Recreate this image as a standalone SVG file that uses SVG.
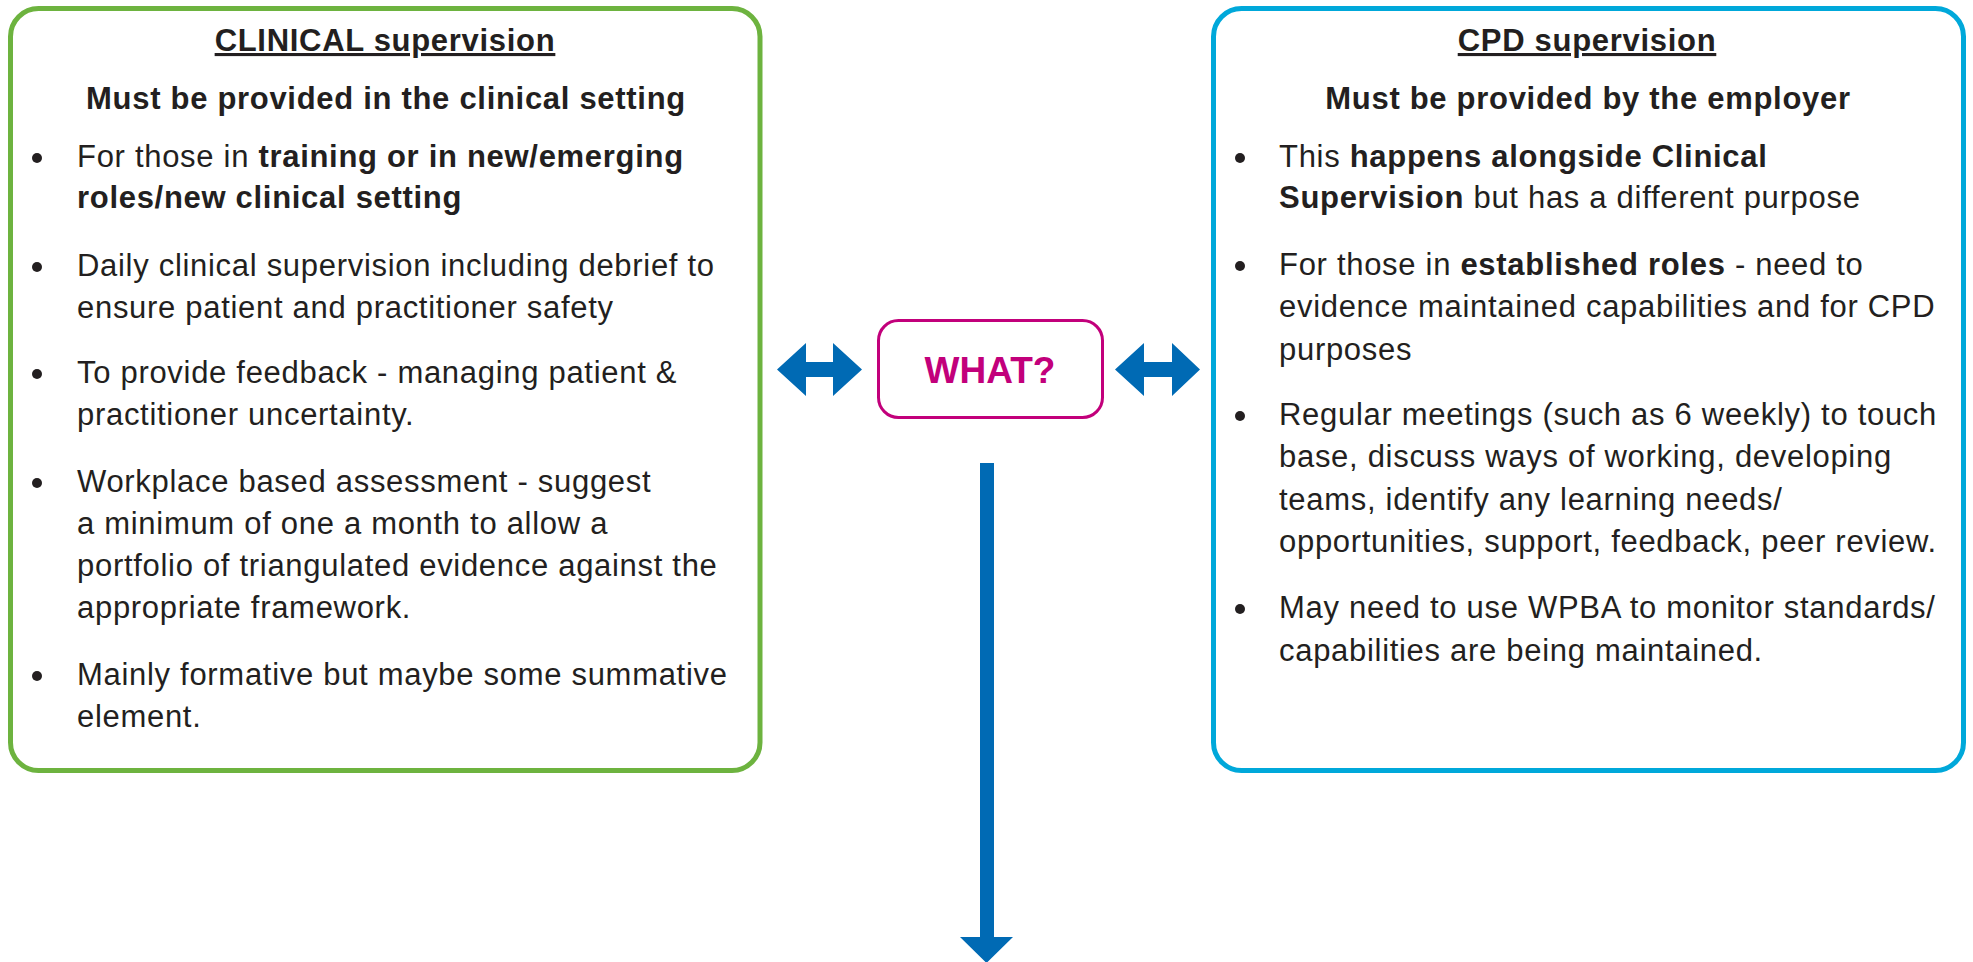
<svg xmlns="http://www.w3.org/2000/svg" width="1973" height="962" viewBox="0 0 1973 962">
<style>
.t{font-family:"Liberation Sans",Arial,Helvetica,sans-serif;font-size:31px;fill:#231f20;letter-spacing:0.7px}
.b{font-weight:bold}
.h{font-weight:bold;text-decoration:underline;text-anchor:middle}
.c{text-anchor:middle}
.dot{fill:#231f20}
.arrow{fill:#006ab4}
</style>
<rect width="1973" height="962" fill="#ffffff"/>
<g id="clinical">
<rect x="10.5" y="8.5" width="749.5" height="762" rx="28" ry="28" fill="#ffffff" stroke="#6db33f" stroke-width="5"/>
<text class="t h" x="385" y="51">CLINICAL supervision</text>
<text class="t b c" x="386" y="109">Must be provided in the clinical setting</text>
<circle class="dot" cx="37" cy="158" r="5"/>
<text class="t" x="77" y="167">For those in <tspan class="b">training or in new/emerging</tspan></text>
<text class="t b" x="77" y="208">roles/new clinical setting</text>
<circle class="dot" cx="37" cy="267" r="5"/>
<text class="t" x="77" y="276">Daily clinical supervision including debrief to</text>
<text class="t" x="77" y="318">ensure patient and practitioner safety</text>
<circle class="dot" cx="37" cy="374" r="5"/>
<text class="t" x="77" y="383">To provide feedback - managing patient &amp;</text>
<text class="t" x="77" y="425">practitioner uncertainty.</text>
<circle class="dot" cx="37" cy="483" r="5"/>
<text class="t" x="77" y="492">Workplace based assessment - suggest</text>
<text class="t" x="77" y="534">a minimum of one a month to allow a</text>
<text class="t" x="77" y="576">portfolio of triangulated evidence against the</text>
<text class="t" x="77" y="618">appropriate framework.</text>
<circle class="dot" cx="37" cy="676" r="5"/>
<text class="t" x="77" y="685">Mainly formative but maybe some summative</text>
<text class="t" x="77" y="727">element.</text>
</g>
<g id="cpd">
<rect x="1213.5" y="8.5" width="750" height="762" rx="28" ry="28" fill="#ffffff" stroke="#00a8da" stroke-width="5"/>
<text class="t h" x="1587" y="51">CPD supervision</text>
<text class="t b c" x="1588" y="109">Must be provided by the employer</text>
<circle class="dot" cx="1240" cy="158" r="5"/>
<text class="t" x="1279" y="167">This <tspan class="b">happens alongside Clinical</tspan></text>
<text class="t" x="1279" y="208"><tspan class="b">Supervision</tspan> but has a different purpose</text>
<circle class="dot" cx="1240" cy="266" r="5"/>
<text class="t" x="1279" y="275">For those in <tspan class="b">established roles</tspan> - need to</text>
<text class="t" x="1279" y="317">evidence maintained capabilities and for CPD</text>
<text class="t" x="1279" y="360">purposes</text>
<circle class="dot" cx="1240" cy="416" r="5"/>
<text class="t" x="1279" y="425">Regular meetings (such as 6 weekly) to touch</text>
<text class="t" x="1279" y="467">base, discuss ways of working, developing</text>
<text class="t" x="1279" y="510">teams, identify any learning needs/</text>
<text class="t" x="1279" y="552">opportunities, support, feedback, peer review.</text>
<circle class="dot" cx="1240" cy="609" r="5"/>
<text class="t" x="1279" y="618">May need to use WPBA to monitor standards/</text>
<text class="t" x="1279" y="661">capabilities are being maintained.</text>
</g>
<g id="what">
<rect x="878.5" y="320.5" width="224" height="97" rx="20" ry="20" fill="#ffffff" stroke="#c2007b" stroke-width="3"/>
<text x="990" y="383" text-anchor="middle" font-family="Liberation Sans, Arial, sans-serif" font-size="37" font-weight="bold" fill="#c2007b">WHAT?</text>
</g>
<g id="connectors">
<polygon class="arrow" points="777,369.5 806,343 806,362 833,362 833,343 862,369.5 833,396 833,377 806,377 806,396"/>
<polygon class="arrow" points="1115,369.5 1144,343 1144,362 1172,362 1172,343 1200,369.5 1172,396 1172,377 1144,377 1144,396"/>
<polygon class="arrow" points="980,463 994,463 994,937 1013,937 986.5,963 960,937 980,937"/>
</g>
</svg>
